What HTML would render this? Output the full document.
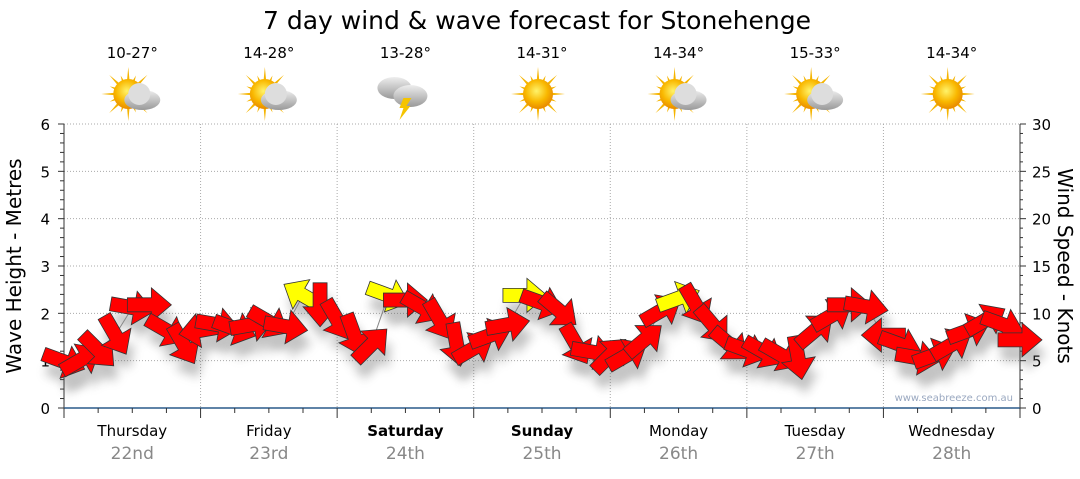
<!DOCTYPE html>
<html><head><meta charset="utf-8"><style>
body{margin:0;background:#fff;font-family:"DejaVu Sans","Liberation Sans",sans-serif;}
svg text{font-family:"DejaVu Sans","Liberation Sans",sans-serif;}
</style></head><body>
<svg id="c" width="1080" height="475" xmlns="http://www.w3.org/2000/svg">
<defs>
<filter id="sh" x="-50%" y="-50%" width="200%" height="200%"><feGaussianBlur stdDeviation="5"/></filter>
<radialGradient id="sun" cx="45%" cy="40%" r="60%"><stop offset="0" stop-color="#fff36a"/><stop offset="0.6" stop-color="#f9b800"/><stop offset="1" stop-color="#e88a00"/></radialGradient>
<linearGradient id="cl" x1="0" y1="0" x2="0" y2="1"><stop offset="0" stop-color="#eee"/><stop offset="1" stop-color="#999"/></linearGradient>
</defs>
<text x="537" y="29" font-size="25" text-anchor="middle">7 day wind &amp; wave forecast for Stonehenge</text>
<g id="grid"></g><g id="axes"></g><g id="icons"></g>
<g id="shadows" opacity="0.35"></g><g id="arrows"></g>
<text x="1013" y="401" font-size="10" fill="#9aa8c0" text-anchor="end">www.seabreeze.com.au</text>
<text transform="translate(21,266) rotate(-90)" font-size="20" text-anchor="middle">Wave Height - Metres</text>
<text transform="translate(1058,266) rotate(90)" font-size="20" text-anchor="middle">Wind Speed - Knots</text>
</svg>
<script>
const days=["Thursday","Friday","Saturday","Sunday","Monday","Tuesday","Wednesday"];
const dates=["22nd","23rd","24th","25th","26th","27th","28th"];
const temps=["10-27°","14-28°","13-28°","14-31°","14-34°","15-33°","14-34°"];
const icons=["partly","partly","storm","sun","partly","partly","sun"];
const boldDays=[false,false,true,true,false,false,false];
const hours=[0,3,6,9,12,15,18,21,24,27,30,33,36,39,42,45,48,51,54,57,60,63,66,69,72,75,78,81,84,87,90,93,96,99,102,105,108,111,114,117,120,123,126,129,132,135,138,141,144,147,150,153,156,159,162,165,168];
const knots=[4.9,5.1,6.1,7.7,10.6,10.9,8.2,6.7, 8.2,8.8,8.4,8.8,9.1,8.6,11.9,10.9, 9.3,7.7,6.7,11.9,11.4,10.6,9.3,6.7, 6.3,7.7,8.8,11.9,11.1,10.3,6.7,5.9, 5.6,5.6,7.2,10.3,11.6,10.9,8.8,6.7, 6.1,5.9,5.6,5.3,8.2,9.8,10.9,10.7, 7.7,6.7,5.3,5.6,6.7,8.2,9.3,8.8,7.2];
const dirs=[20,-30,45,60,10,0,30,60, 170,10,20,-10,30,10,-150,90, 60,70,-45,20,0,30,60,80, -30,-20,-10,0,20,40,60,10, -45,-30,-40,-30,-20,60,50,40, 20,30,30,80,-40,-30,0,10, 180,20,10,-20,-30,-20,-30,20,0];
const yellow=[0,0,0,0,0,0,0,0, 0,0,0,0,0,0,1,0, 0,0,0,1,0,0,0,0, 0,0,0,1,0,0,0,0, 0,0,0,0,1,0,0,0, 0,0,0,0,0,0,0,0, 0,0,0,0,0,0,0,0,0];
const NS="http://www.w3.org/2000/svg";
const X0=64,X1=1020,Y0=408,Y1=124;
const xS=h=>X0+h/168*(X1-X0);
const yM=m=>Y0-m/6*(Y0-Y1);
const yK=k=>Y0-k/30*(Y0-Y1);
function mk(t,a,p){const e=document.createElementNS(NS,t);for(const k in a)e.setAttribute(k,a[k]);p.appendChild(e);return e;}
const grid=document.getElementById('grid'),axes=document.getElementById('axes'),ic=document.getElementById('icons');
for(let m=1;m<=6;m++){const l=mk('line',{x1:X0,x2:X1,y1:yM(m),y2:yM(m),stroke:'#aaa','stroke-dasharray':'1,2'},grid);

}
for(let d=1;d<7;d++){const l=mk('line',{x1:xS(d*24),x2:xS(d*24),y1:Y1,y2:Y0,stroke:'#aaa','stroke-dasharray':'1,2'},grid);

}
mk('line',{x1:X0,x2:X0,y1:Y1,y2:Y0,stroke:'#333'},axes);
mk('line',{x1:X1,x2:X1,y1:Y1,y2:Y0,stroke:'#333'},axes);
mk('line',{x1:X0,x2:X1,y1:Y0,y2:Y0,stroke:'#2a5a8a','stroke-width':1.5},axes);
for(let i=0;i<=30;i++){const y=yM(i*0.2),len=i%5==0?6:4;mk('line',{x1:X0-len,x2:X0,y1:y,y2:y,stroke:'#333'},axes);}
for(let m=0;m<=6;m++){const t=mk('text',{x:X0-14,y:yM(m)+6,'font-size':15,'text-anchor':'end'},axes);t.textContent=m;

}
for(let k=0;k<=30;k++){const y=yK(k),len=k%5==0?6:3;mk('line',{x1:X1,x2:X1+len,y1:y,y2:y,stroke:'#333'},axes);}
for(let k=0;k<=30;k+=5){const t=mk('text',{x:X1+12,y:yK(k)+6,'font-size':15},axes);t.textContent=k;

}
for(let h=0;h<=168;h+=6){const l=h%24==0?10:5;mk('line',{x1:xS(h),x2:xS(h),y1:Y0,y2:Y0+l,stroke:'#333'},axes);}
function drawIcon(type,cx,cy,g){
 if(type!=='storm'){
  for(let i=0;i<16;i++){const a=i*Math.PI/8,r=i%2?20:27;mk('polygon',{points:`${cx+Math.cos(a-0.12)*12},${cy+Math.sin(a-0.12)*12} ${cx+Math.cos(a)*r},${cy+Math.sin(a)*r} ${cx+Math.cos(a+0.12)*12},${cy+Math.sin(a+0.12)*12}`,fill:'#f5b400'},g);}
  mk('circle',{cx,cy,r:15,fill:'url(#sun)'},g);
 }
 if(type==='partly'){mk('ellipse',{cx:cx+14,cy:cy+6,rx:18,ry:10,fill:'url(#cl)'},g);mk('circle',{cx:cx+11,cy:cy,r:11,fill:'#ddd'},g);}
 if(type==='storm'){mk('ellipse',{cx:cx-7,cy:cy-6,rx:17,ry:11,fill:'url(#cl)'},g);mk('ellipse',{cx:cx+9,cy:cy+2,rx:17,ry:11,fill:'url(#cl)'},g);
  mk('polygon',{points:`${cx+2},${cy+4} ${cx+10},${cy+4} ${cx+5},${cy+12} ${cx+9},${cy+12} ${cx-2},${cy+26} ${cx+2},${cy+14} ${cx-2},${cy+14}`,fill:'#f5c400'},g);}
}
days.forEach((d,i)=>{const cx=xS(i*24+12);
 const t=mk('text',{x:cx,y:58,'font-size':15,'text-anchor':'middle'},ic);t.textContent=temps[i];
 
 
 const g=mk('g',{},ic);
 
 
 drawIcon(icons[i],cx-4,94,g);
 const dn=mk('text',{x:cx,y:436,'font-size':15,'text-anchor':'middle','font-weight':boldDays[i]?'bold':'normal'},axes);dn.textContent=d;
 
 
 const dt=mk('text',{x:cx,y:459,'font-size':17,'text-anchor':'middle',fill:'#888'},axes);dt.textContent=dates[i];
 
 
});
const sh=document.getElementById('shadows'),ar=document.getElementById('arrows');
const pts=hours.map((h,i)=>xS(h)+','+yK(knots[i])).join(' ');
const wl=mk('polyline',{points:pts,fill:'none',stroke:'#888','stroke-width':1},ar);


const shape="-22,-7 2,-7 2,-17 22,0 2,17 2,7 -22,7";
hours.forEach((h,i)=>{const x=xS(h),y=yK(knots[i]);
 const s=mk('polygon',{points:shape,transform:`translate(${x+4},${y+14}) rotate(${dirs[i]})`,fill:'#555',filter:'url(#sh)'},sh);
 
 
 const a=mk('polygon',{points:shape,transform:`translate(${x},${y}) rotate(${dirs[i]})`,fill:yellow[i]?'#ffff00':'#ff0000',stroke:'#333','stroke-width':0.8},ar);
 
 
});
</script>
</body></html>
